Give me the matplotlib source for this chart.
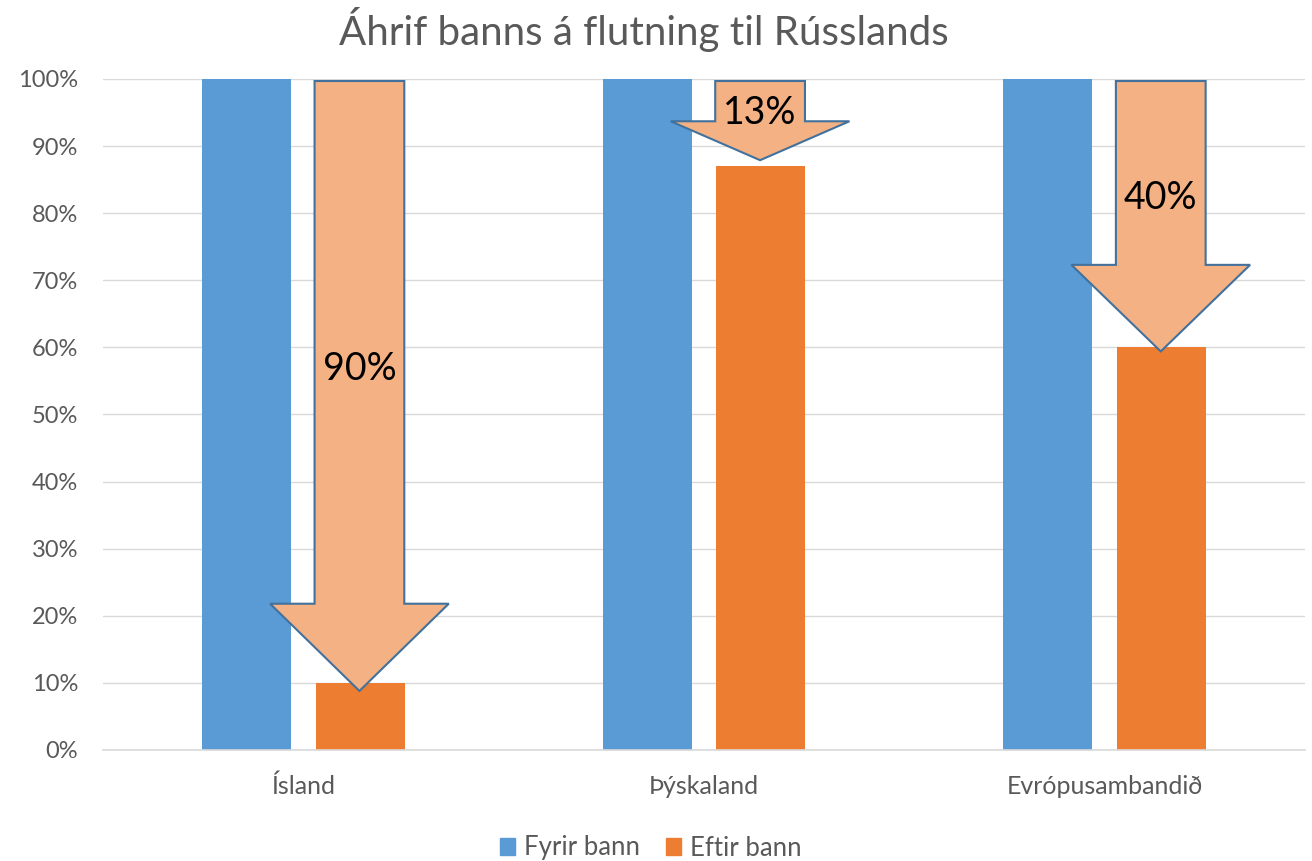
import numpy as np
import matplotlib.pyplot as plt
from matplotlib.patches import Polygon, Patch

plt.rcParams['font.family'] = ['Lato', 'DejaVu Sans']

categories = ['Ísland', 'Þýskaland', 'Evrópusambandið']
fyrir_bann = [100, 100, 100]
eftir_bann = [10, 87, 60]
drop_labels = ['90%', '13%', '40%']
# where each arrow ends and where its head begins
arrow_tip = [8.8, 87.9, 59.4]
head_start = [21.8, 93.7, 72.3]

BLUE = '#5B9BD5'
ORANGE = '#ED7D31'
ARROW_FILL = '#F4B183'
ARROW_EDGE = '#41719C'
GRAY = '#595959'


def main():
    fig = plt.figure(figsize=(13.12, 8.61), dpi=100)
    ax = fig.add_axes([103 / 1312, 1 - 750 / 861, 1202 / 1312, 671 / 861])

    x = np.arange(len(categories))
    w = 0.222
    off = 0.142
    ax.bar(x - off, fyrir_bann, w, color=BLUE, zorder=2, label='Fyrir bann')
    ax.bar(x + off, eftir_bann, w, color=ORANGE, zorder=2, label='Eftir bann')

    # arrows showing the drop
    for i, (tip, head, lab) in enumerate(zip(arrow_tip, head_start, drop_labels)):
        cx = x[i] + off - 0.002
        top = 99.7
        sw, hw = 0.112, 0.223
        pts = [(cx - sw, top), (cx + sw, top), (cx + sw, head), (cx + hw, head),
               (cx, tip), (cx - hw, head), (cx - sw, head)]
        ax.add_patch(Polygon(pts, closed=True, facecolor=ARROW_FILL,
                             edgecolor=ARROW_EDGE, linewidth=1.5, zorder=3))
        L = top - tip
        ty = top - (0.4 + 0.0008 * L) * L
        ax.text(cx, ty, lab, ha='center', va='center', fontsize=27,
                color='black', zorder=4)

    ax.set_xlim(-0.5, 2.5)
    ax.set_ylim(0, 100)
    ax.set_yticks(np.arange(0, 101, 10))
    ax.set_yticklabels([f'{v}%' for v in range(0, 101, 10)])
    ax.set_xticks(x)
    ax.set_xticklabels(categories)
    ax.grid(axis='y', color='#D9D9D9', linewidth=1, zorder=0)
    ax.tick_params(axis='x', length=0, labelsize=18, colors=GRAY, pad=18)
    ax.tick_params(axis='y', length=0, labelsize=17, colors=GRAY, pad=18)
    for s in ['top', 'right', 'left']:
        ax.spines[s].set_visible(False)
    ax.spines['bottom'].set_color('#D9D9D9')
    ax.spines['bottom'].set_linewidth(1.2)

    fig.suptitle('Áhrif banns á flutning til Rússlands', fontsize=29,
                 color=GRAY, x=644 / 1312, y=1 - 30 / 861, va='center')

    handles = [Patch(color=BLUE, label='Fyrir bann'),
               Patch(color=ORANGE, label='Eftir bann')]
    fig.legend(handles=handles, loc='center', bbox_to_anchor=(651 / 1312, 13 / 861),
               ncol=2, frameon=False, fontsize=18.5, labelcolor=GRAY,
               handlelength=0.6, handleheight=0.6, columnspacing=1.0,
               handletextpad=0.35)

    fig.savefig('out.png', dpi=100)


if __name__ == '__main__':
    main()
